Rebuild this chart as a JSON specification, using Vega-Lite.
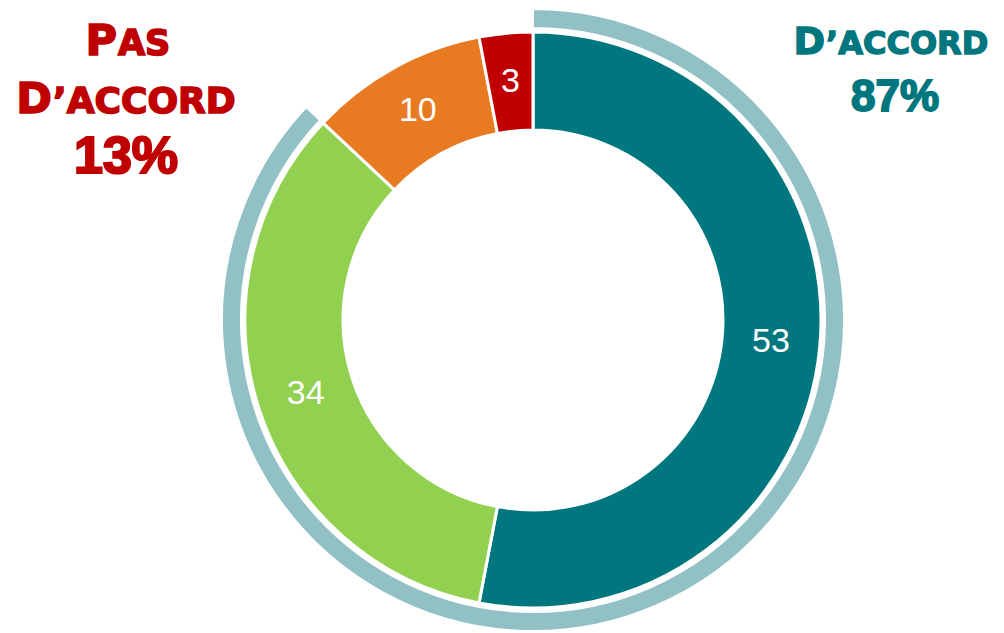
{
  "$schema": "https://vega.github.io/schema/vega-lite/v6.json",
  "width": 942,
  "height": 626,
  "autosize": "none",
  "padding": {"left": 62, "top": 7, "right": 0, "bottom": 0},
  "background": "white",
  "config": {"view": {"stroke": null}},
  "layer": [
    {
      "data": {"values": [
        {"groupe": "D'accord", "valeur": 87},
        {"groupe": "Pas d'accord", "valeur": 13}
      ]},
      "mark": {"type": "arc", "radius": 311, "radius2": 292, "stroke": "white", "strokeWidth": 2},
      "encoding": {
        "theta": {"field": "valeur", "type": "quantitative", "stack": true},
        "order": {"field": "valeur", "sort": "descending"},
        "color": {
          "field": "groupe", "type": "nominal", "legend": null,
          "scale": {
            "domain": ["Tout à fait d'accord", "Plutôt d'accord", "Plutôt pas d'accord", "Pas du tout d'accord", "D'accord", "Pas d'accord"],
            "range": ["#00767E", "#92D050", "#E87A22", "#C00000", "#92C1C5", "#ffffff"]
          }
        }
      }
    },
    {
      "data": {"values": [
        {"groupe": "Tout à fait d'accord", "valeur": 53},
        {"groupe": "Plutôt d'accord", "valeur": 34},
        {"groupe": "Plutôt pas d'accord", "valeur": 10},
        {"groupe": "Pas du tout d'accord", "valeur": 3}
      ]},
      "layer": [
        {
          "mark": {"type": "arc", "radius": 288, "radius2": 190, "stroke": "white", "strokeWidth": 3},
          "encoding": {
            "theta": {"field": "valeur", "type": "quantitative", "stack": true},
            "order": {"field": "valeur", "sort": "descending"},
            "color": {"field": "groupe", "type": "nominal", "legend": null}
          }
        },
        {
          "mark": {"type": "text", "radius": 239, "font": "Liberation Sans", "fontSize": 34, "fill": "white", "align": "center", "baseline": "middle"},
          "encoding": {
            "theta": {"field": "valeur", "type": "quantitative", "stack": true},
            "order": {"field": "valeur", "sort": "descending"},
            "text": {"field": "valeur", "type": "quantitative"}
          }
        }
      ]
    },
    {
      "data": {"values": [{"t": "P"}]},
      "mark": {"type": "text", "x": 55, "y": 48, "align": "right", "baseline": "alphabetic", "font": "DejaVu Sans", "fontWeight": "bold", "fontSize": 43, "fill": "#C00000", "stroke": "#C00000", "strokeWidth": 1.6},
      "encoding": {"text": {"field": "t"}}
    },
    {
      "data": {"values": [{"t": "AS"}]},
      "mark": {"type": "text", "x": 56, "y": 48, "align": "left", "baseline": "alphabetic", "font": "DejaVu Sans", "fontWeight": "bold", "fontSize": 35, "fill": "#C00000", "stroke": "#C00000", "strokeWidth": 1.6},
      "encoding": {"text": {"field": "t"}}
    },
    {
      "data": {"values": [{"t": "D"}]},
      "mark": {"type": "text", "x": -10, "y": 106, "align": "right", "baseline": "alphabetic", "font": "DejaVu Sans", "fontWeight": "bold", "fontSize": 43, "fill": "#C00000", "stroke": "#C00000", "strokeWidth": 1.6},
      "encoding": {"text": {"field": "t"}}
    },
    {
      "data": {"values": [{"t": "’ACCORD"}]},
      "mark": {"type": "text", "x": -9, "y": 106, "align": "left", "baseline": "alphabetic", "font": "DejaVu Sans", "fontWeight": "bold", "fontSize": 36, "fill": "#C00000", "stroke": "#C00000", "strokeWidth": 1.6},
      "encoding": {"text": {"field": "t"}}
    },
    {
      "data": {"values": [{"t": "13%"}]},
      "mark": {"type": "text", "x": 64, "y": 166, "align": "center", "baseline": "alphabetic", "font": "Liberation Sans", "fontWeight": "bold", "fontSize": 52, "fill": "#C00000", "stroke": "#C00000", "strokeWidth": 2.2},
      "encoding": {"text": {"field": "t"}}
    },
    {
      "data": {"values": [{"t": "D"}]},
      "mark": {"type": "text", "x": 763, "y": 47, "align": "right", "baseline": "alphabetic", "font": "DejaVu Sans", "fontWeight": "bold", "fontSize": 38, "fill": "#00767E", "stroke": "#00767E", "strokeWidth": 1.4},
      "encoding": {"text": {"field": "t"}}
    },
    {
      "data": {"values": [{"t": "’ACCORD"}]},
      "mark": {"type": "text", "x": 764, "y": 47, "align": "left", "baseline": "alphabetic", "font": "DejaVu Sans", "fontWeight": "bold", "fontSize": 32, "fill": "#00767E", "stroke": "#00767E", "strokeWidth": 1.4},
      "encoding": {"text": {"field": "t"}}
    },
    {
      "data": {"values": [{"t": "87%"}]},
      "mark": {"type": "text", "x": 833, "y": 104, "align": "center", "baseline": "alphabetic", "font": "Liberation Sans", "fontWeight": "bold", "fontSize": 44, "fill": "#00767E", "stroke": "#00767E", "strokeWidth": 1.8},
      "encoding": {"text": {"field": "t"}}
    }
  ]
}
